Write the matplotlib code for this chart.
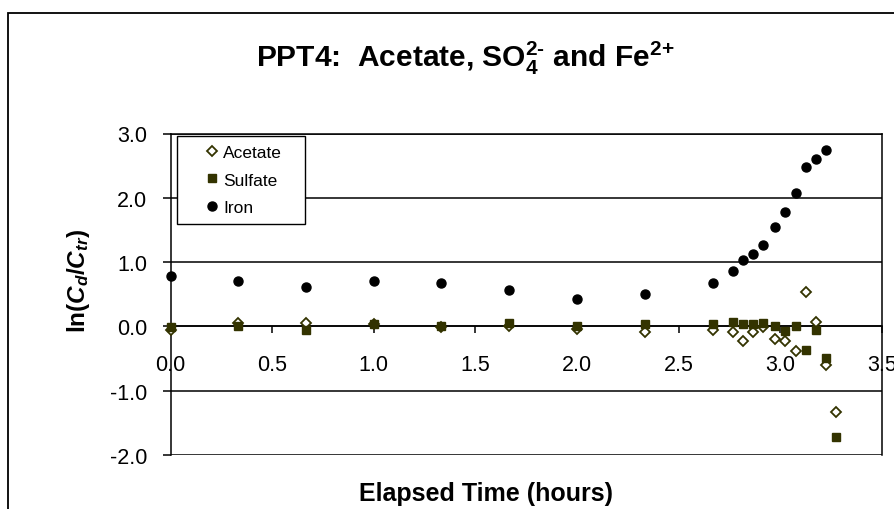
import numpy as np
import matplotlib
matplotlib.use("Agg")
import matplotlib.pyplot as plt
from matplotlib.patches import Rectangle

plt.rcParams['font.family'] = ['Liberation Sans', 'DejaVu Sans']
plt.rcParams['mathtext.fontset'] = 'custom'
plt.rcParams['mathtext.rm'] = 'Liberation Sans:bold'
plt.rcParams['mathtext.bf'] = 'Liberation Sans:bold'
plt.rcParams['mathtext.it'] = 'Liberation Sans:italic:bold'
plt.rcParams['mathtext.default'] = 'rm'

# ---- data ----
time_h = [0.0, 0.333, 0.667, 1.0, 1.333, 1.667, 2.0, 2.333, 2.667, 2.767,
          2.817, 2.867, 2.917, 2.975, 3.025, 3.075, 3.125, 3.175, 3.225, 3.275]
acetate = [-0.05, 0.05, 0.05, 0.03, -0.01, 0.01, -0.04, -0.08, -0.06, -0.08,
           -0.22, -0.09, -0.01, -0.20, -0.22, -0.39, 0.54, 0.07, -0.60, -1.33]
sulfate = [-0.01, 0.0, -0.05, 0.04, 0.01, 0.06, 0.01, 0.04, 0.04, 0.07,
           0.03, 0.03, 0.05, 0.0, -0.07, 0.0, -0.36, -0.05, -0.49, -1.72]
iron = [0.79, 0.71, 0.62, 0.71, 0.67, 0.57, 0.42, 0.50, 0.67, 0.86,
        1.03, 1.13, 1.27, 1.54, 1.78, 2.07, 2.48, 2.61, 2.75, np.nan]
series_names = ["Acetate", "Sulfate", "Iron"]
xticks = [0.0, 0.5, 1.0, 1.5, 2.0, 2.5, 3.0, 3.5]
yticks = [-2.0, -1.0, 0.0, 1.0, 2.0, 3.0]

olive = "#333300"

fig = plt.figure(figsize=(8.94, 5.10), dpi=100)
W, H = 894, 510
ax = fig.add_axes([170.5 / W, 1 - 456 / H, (882 - 170.5) / W, (456 - 134.5) / H])

# outer chart frame
fig.patches.append(Rectangle((8 / W, -0.1), 1.2, 1.1 - 14 / H, transform=fig.transFigure,
                             fill=False, edgecolor="black", linewidth=1.3))

ax.set_xlim(0, 3.5)
ax.set_ylim(-2, 3)
ax.set_yticks(yticks)
ax.set_xticks(xticks)
ax.set_yticklabels([f"{v:.1f}" for v in yticks])
ax.set_xticklabels([f"{v:.1f}" for v in xticks])

for y in yticks:
    ax.axhline(y, color="black", lw=1.1, zorder=1)

ax.spines['bottom'].set_position(('data', 0))
for s in ['left', 'right', 'top', 'bottom']:
    ax.spines[s].set_color('black')
    ax.spines[s].set_linewidth(1.1)

ax.tick_params(axis='y', direction='out', length=6, width=1.1, pad=11, labelsize=15.5)
ax.tick_params(axis='x', direction='out', length=5, width=1.1, pad=15, labelsize=15.5)

ax.plot(time_h, acetate, linestyle='none', marker='D', ms=5.2, mfc='white',
        mec=olive, mew=1.3, label=series_names[0], zorder=3, clip_on=False)
ax.plot(time_h, sulfate, linestyle='none', marker='s', ms=6.3, mfc=olive,
        mec=olive, label=series_names[1], zorder=4, clip_on=False)
ax.plot(time_h, iron, linestyle='none', marker='o', ms=6.5, mfc='black',
        mec='black', label=series_names[2], zorder=5, clip_on=False)

leg_w = 128.5 / 711.5
leg_h = 86.0 / 321.5
leg = ax.legend(loc='upper left', bbox_to_anchor=(0.0087, 0.991 - leg_h, leg_w, leg_h),
                mode='expand', borderaxespad=0,
                fontsize=12.5, frameon=True, fancybox=False, edgecolor='black',
                framealpha=1, handlelength=3.1, handletextpad=-0.9,
                borderpad=0.48, labelspacing=0.72, numpoints=1)
leg.get_frame().set_linewidth(1.0)
leg.set_zorder(6)

fig.text(465 / W, 1 - 58 / H, r"PPT4:  Acetate, SO$_4^{2\text{-}}$ and Fe$^{2\text{+}}$",
         ha='center', va='center', fontsize=21.5, fontweight='bold')
fig.text(486 / W, 1 - 494 / H, "Elapsed Time (hours)", ha='center', va='center',
         fontsize=18, fontweight='bold')
fig.text(79 / W, 1 - 281 / H, r"ln($\mathit{C_d}$/$\mathit{C_{tr}}$)", ha='center',
         va='center', rotation=90, fontsize=17.5, fontweight='bold')

fig.savefig("out.png", dpi=100)
